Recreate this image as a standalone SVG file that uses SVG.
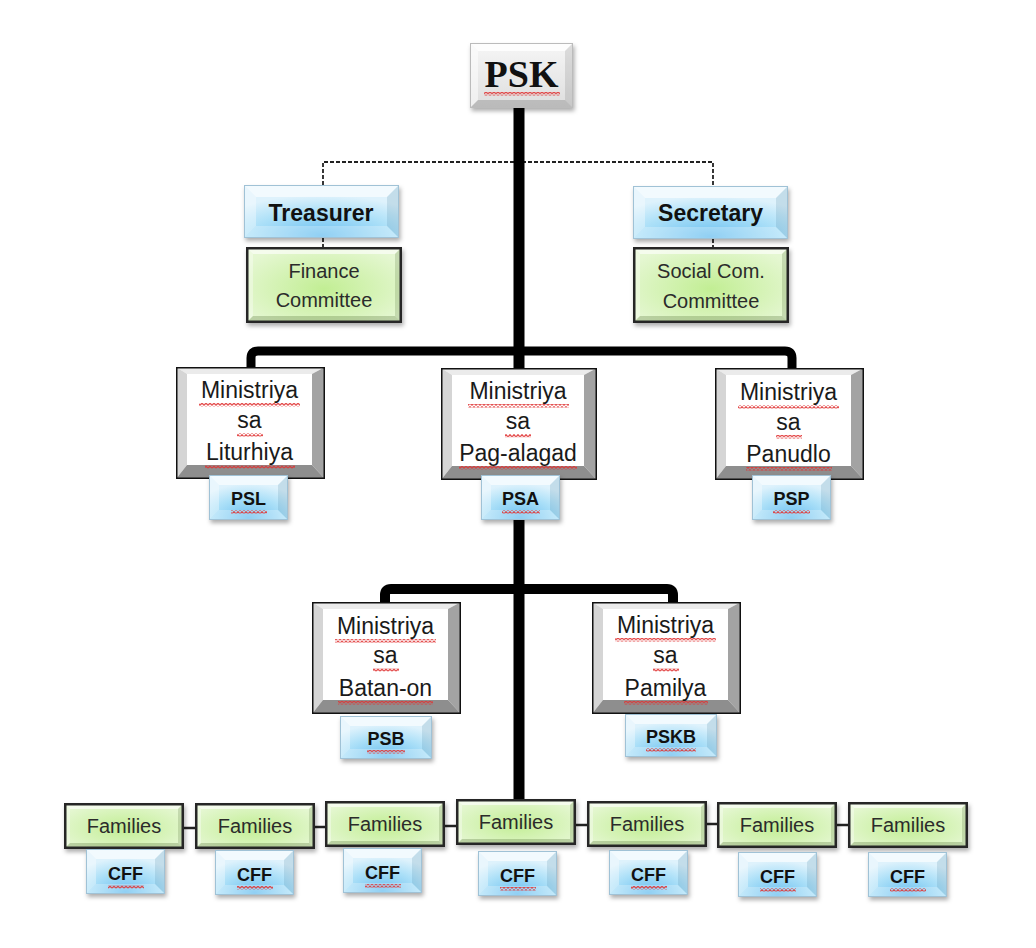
<svg xmlns="http://www.w3.org/2000/svg" width="1036" height="948" viewBox="0 0 1036 948">
<style>
.t{font-family:"Liberation Sans",Arial,sans-serif;text-anchor:middle;fill:#1a1a1a}
.min{font-size:23px}
.lbl{font-size:18px;font-weight:bold;fill:#111}
.fam{font-size:20px;fill:#2b2b2b}
.off{font-size:23px;font-weight:bold;fill:#111}
.com{font-size:20px;fill:#2b2b2b}
.psk{font-family:"Liberation Serif","Times New Roman",serif;font-size:38px;font-weight:bold;text-anchor:middle;fill:#111}
.thick{stroke:#000;fill:none;stroke-linejoin:round}
.dash{stroke:#222;stroke-width:1.8;stroke-dasharray:4 2;fill:none}
.fc{stroke:#222;stroke-width:2.5}
.sq{fill:url(#sq)}
</style>
<defs>
<filter id="sh" x="-10%" y="-10%" width="130%" height="140%">
<feDropShadow dx="1.5" dy="3" stdDeviation="2" flood-color="#000" flood-opacity="0.32"/>
</filter>
<pattern id="sq" width="4" height="3.5" patternUnits="userSpaceOnUse">
<path d="M0,2.8 L2,0.7 L4,2.8" fill="none" stroke="#e03434" stroke-width="1.2"/>
</pattern>
<linearGradient id="pFace" x1="0" y1="0" x2="0" y2="1">
<stop offset="0" stop-color="#f6f6f6"/><stop offset="1" stop-color="#dedede"/>
</linearGradient>
<radialGradient id="bFace" cx="50%" cy="95%" r="75%">
<stop offset="0" stop-color="#6cc0f0"/><stop offset="0.6" stop-color="#ace0f8"/><stop offset="1" stop-color="#def2fc"/>
</radialGradient>
<radialGradient id="gFace" cx="50%" cy="55%" r="60%">
<stop offset="0" stop-color="#c2ee94"/><stop offset="1" stop-color="#e5f7d2"/>
</radialGradient>

<g id="tPsk">
<rect width="103" height="65" fill="url(#pFace)"/>
<polygon points="0,0 103,0 95,8 8,8" fill="#fff" opacity="0.8"/>
<polygon points="0,0 8,8 8,57 0,65" fill="#fff" opacity="0.5"/>
<polygon points="103,0 103,65 95,57 95,8" fill="#000" opacity="0.1"/>
<polygon points="0,65 8,57 95,57 103,65" fill="#000" opacity="0.16"/>
<rect x="0.5" y="0.5" width="102" height="64" fill="none" stroke="#bbb"/>
</g>

<g id="tBlueT">
<rect width="155" height="53" fill="url(#bFace)"/>
<polygon points="0,0 155,0 143,12 12,12" fill="#fff" opacity="0.6"/>
<polygon points="0,0 12,12 12,41 0,53" fill="#fff" opacity="0.35"/>
<polygon points="155,0 155,53 143,41 143,12" fill="#3a6f8f" opacity="0.16"/>
<polygon points="0,53 12,41 143,41 155,53" fill="#fff" opacity="0.25"/>
<rect x="0.5" y="0.5" width="154" height="52" fill="none" stroke="#a0c2d6"/>
</g>

<g id="tBlueS">
<rect width="79" height="45" fill="url(#bFace)"/>
<polygon points="0,0 79,0 69,10 10,10" fill="#fff" opacity="0.6"/>
<polygon points="0,0 10,10 10,35 0,45" fill="#fff" opacity="0.35"/>
<polygon points="79,0 79,45 69,35 69,10" fill="#3a6f8f" opacity="0.16"/>
<polygon points="0,45 10,35 69,35 79,45" fill="#fff" opacity="0.25"/>
<rect x="0.5" y="0.5" width="78" height="44" fill="none" stroke="#a0c2d6"/>
</g>

<g id="tBlueM">
<rect width="92" height="43" fill="url(#bFace)"/>
<polygon points="0,0 92,0 82,10 10,10" fill="#fff" opacity="0.6"/>
<polygon points="0,0 10,10 10,33 0,43" fill="#fff" opacity="0.35"/>
<polygon points="92,0 92,43 82,33 82,10" fill="#3a6f8f" opacity="0.16"/>
<polygon points="0,43 10,33 82,33 92,43" fill="#fff" opacity="0.25"/>
<rect x="0.5" y="0.5" width="91" height="42" fill="none" stroke="#a0c2d6"/>
</g>

<g id="tGreenC">
<rect width="156" height="76" fill="url(#gFace)"/>
<polygon points="0,0 156,0 149,7 7,7" fill="#fff" opacity="0.6"/>
<polygon points="0,0 7,7 7,69 0,76" fill="#fff" opacity="0.35"/>
<polygon points="156,0 156,76 149,69 149,7" fill="#3a5a1a" opacity="0.18"/>
<polygon points="0,76 7,69 149,69 156,76" fill="#3a5a1a" opacity="0.25"/>
<rect x="1.25" y="1.25" width="153.5" height="73.5" fill="none" stroke="#262626" stroke-width="2.5"/>
</g>

<g id="tGreenF">
<rect width="120" height="46" fill="url(#gFace)"/>
<polygon points="0,0 120,0 114,6 6,6" fill="#fff" opacity="0.6"/>
<polygon points="0,0 6,6 6,40 0,46" fill="#fff" opacity="0.35"/>
<polygon points="120,0 120,46 114,40 114,6" fill="#3a5a1a" opacity="0.18"/>
<polygon points="0,46 6,40 114,40 120,46" fill="#3a5a1a" opacity="0.25"/>
<rect x="1.25" y="1.25" width="117.5" height="43.5" fill="none" stroke="#262626" stroke-width="2.5"/>
</g>

<g id="tMin149">
<rect width="149" height="112" fill="#fff"/>
<polygon points="0,0 149,0 136,7 11,7" fill="#ebebeb"/>
<polygon points="0,0 11,7 11,98 0,112" fill="#d5d5d5"/>
<polygon points="149,0 149,112 136,98 136,7" fill="#a3a3a3"/>
<polygon points="0,112 11,98 136,98 149,112" fill="#8e8e8e"/>
<rect x="0.75" y="0.75" width="147.5" height="110.5" fill="none" stroke="#111" stroke-width="1.5"/>
</g>

<g id="tMin156">
<rect width="156" height="112" fill="#fff"/>
<polygon points="0,0 156,0 143,7 11,7" fill="#ebebeb"/>
<polygon points="0,0 11,7 11,98 0,112" fill="#d5d5d5"/>
<polygon points="156,0 156,112 143,98 143,7" fill="#a3a3a3"/>
<polygon points="0,112 11,98 143,98 156,112" fill="#8e8e8e"/>
<rect x="0.75" y="0.75" width="154.5" height="110.5" fill="none" stroke="#111" stroke-width="1.5"/>
</g>
</defs>

<rect width="1036" height="948" fill="#fff"/>

<g id="connectors">
<path class="dash" d="M323,185 V162 H713 V186"/>
<path class="dash" d="M323,238 V247"/>
<path class="dash" d="M713,239 V247"/>
<line class="thick" x1="519" y1="108" x2="519" y2="799" stroke-width="11"/>
<path class="thick" stroke-width="9" d="M251,368 V358 Q251,351 258,351 H785 Q792,351 792,358 V368"/>
<path class="thick" stroke-width="10" d="M385,602 V595 Q385,589 391,589 H667 Q673,589 673,595 V602"/>
<line class="fc" x1="184" y1="828" x2="196" y2="828"/>
<line class="fc" x1="314" y1="827" x2="326" y2="827"/>
<line class="fc" x1="444" y1="826" x2="457" y2="826"/>
<line class="fc" x1="575" y1="825" x2="588" y2="825"/>
<line class="fc" x1="706" y1="824" x2="718" y2="824"/>
<line class="fc" x1="836" y1="825" x2="849" y2="825"/>
</g>

<g id="node-psk"><use href="#tPsk" x="470" y="43" filter="url(#sh)"/><text class="psk" x="521.5" y="87">PSK</text></g>

<g id="node-treasurer"><use href="#tBlueT" x="244" y="185" filter="url(#sh)"/><text class="t off" x="321" y="221">Treasurer</text></g>
<g id="node-secretary"><use href="#tBlueT" x="633" y="186" filter="url(#sh)"/><text class="t off" x="710.5" y="221">Secretary</text></g>

<g id="node-finance"><use href="#tGreenC" x="246" y="247" filter="url(#sh)"/><text class="t com" x="324" y="278">Finance</text><text class="t com" x="324" y="307">Committee</text></g>
<g id="node-social"><use href="#tGreenC" x="633" y="247" filter="url(#sh)"/><text class="t com" x="711" y="278">Social Com.</text><text class="t com" x="711" y="308">Committee</text></g>

<g id="node-liturhiya"><use href="#tMin149" x="176" y="367"/><text class="t min" x="249.5" y="398">Ministriya</text><text class="t min" x="249.5" y="428">sa</text><text class="t min" x="249.5" y="460">Liturhiya</text></g>
<g id="node-psl"><use href="#tBlueS" x="209" y="475" filter="url(#sh)"/><text class="t lbl" x="248.5" y="505">PSL</text></g>

<g id="node-pagalagad"><use href="#tMin156" x="441" y="368"/><text class="t min" x="518" y="399">Ministriya</text><text class="t min" x="518" y="429">sa</text><text class="t min" x="518" y="461">Pag-alagad</text></g>
<g id="node-psa"><use href="#tBlueS" x="481" y="475" filter="url(#sh)"/><text class="t lbl" x="520.5" y="505">PSA</text></g>

<g id="node-panudlo"><use href="#tMin149" x="715" y="368"/><text class="t min" x="788.5" y="400">Ministriya</text><text class="t min" x="788.5" y="430">sa</text><text class="t min" x="788.5" y="462">Panudlo</text></g>
<g id="node-psp"><use href="#tBlueS" x="752" y="475" filter="url(#sh)"/><text class="t lbl" x="791.5" y="505">PSP</text></g>

<g id="node-batanon"><use href="#tMin149" x="312" y="602"/><text class="t min" x="385.5" y="634">Ministriya</text><text class="t min" x="385.5" y="663">sa</text><text class="t min" x="385.5" y="696">Batan-on</text></g>
<g id="node-psb"><use href="#tBlueM" x="340" y="716" filter="url(#sh)"/><text class="t lbl" x="386" y="745">PSB</text></g>

<g id="node-pamilya"><use href="#tMin149" x="592" y="602"/><text class="t min" x="665.5" y="633">Ministriya</text><text class="t min" x="665.5" y="663">sa</text><text class="t min" x="665.5" y="696">Pamilya</text></g>
<g id="node-pskb"><use href="#tBlueM" x="625" y="714" filter="url(#sh)"/><text class="t lbl" x="671" y="743">PSKB</text></g>

<g id="node-families-1"><use href="#tGreenF" x="64" y="803" filter="url(#sh)"/><text class="t fam" x="124" y="833">Families</text></g>
<g id="node-families-2"><use href="#tGreenF" x="195" y="803" filter="url(#sh)"/><text class="t fam" x="255" y="833">Families</text></g>
<g id="node-families-3"><use href="#tGreenF" x="325" y="801" filter="url(#sh)"/><text class="t fam" x="385" y="831">Families</text></g>
<g id="node-families-4"><use href="#tGreenF" x="456" y="799" filter="url(#sh)"/><text class="t fam" x="516" y="829">Families</text></g>
<g id="node-families-5"><use href="#tGreenF" x="587" y="801" filter="url(#sh)"/><text class="t fam" x="647" y="831">Families</text></g>
<g id="node-families-6"><use href="#tGreenF" x="717" y="802" filter="url(#sh)"/><text class="t fam" x="777" y="832">Families</text></g>
<g id="node-families-7"><use href="#tGreenF" x="848" y="802" filter="url(#sh)"/><text class="t fam" x="908" y="832">Families</text></g>

<g id="node-cff-1"><use href="#tBlueS" x="86" y="849" filter="url(#sh)"/><text class="t lbl" x="125.5" y="880">CFF</text></g>
<g id="node-cff-2"><use href="#tBlueS" x="215" y="850" filter="url(#sh)"/><text class="t lbl" x="254.5" y="881">CFF</text></g>
<g id="node-cff-3"><use href="#tBlueS" x="343" y="848" filter="url(#sh)"/><text class="t lbl" x="382.5" y="879">CFF</text></g>
<g id="node-cff-4"><use href="#tBlueS" x="478" y="851" filter="url(#sh)"/><text class="t lbl" x="517.5" y="882">CFF</text></g>
<g id="node-cff-5"><use href="#tBlueS" x="609" y="850" filter="url(#sh)"/><text class="t lbl" x="648.5" y="881">CFF</text></g>
<g id="node-cff-6"><use href="#tBlueS" x="738" y="852" filter="url(#sh)"/><text class="t lbl" x="777.5" y="883">CFF</text></g>
<g id="node-cff-7"><use href="#tBlueS" x="868" y="852" filter="url(#sh)"/><text class="t lbl" x="907.5" y="883">CFF</text></g>

<g id="spellcheck-marks">
<rect class="sq" x="484" y="92" width="76" height="3.5"/>
<rect class="sq" x="199" y="403" width="101" height="3.5"/>
<rect class="sq" x="237" y="433" width="26" height="3.5"/>
<rect class="sq" x="205" y="465" width="90" height="3.5"/>
<rect class="sq" x="231" y="510" width="36" height="3.5"/>
<rect class="sq" x="468" y="404" width="101" height="3.5"/>
<rect class="sq" x="505" y="434" width="26" height="3.5"/>
<rect class="sq" x="459" y="466" width="118" height="3.5"/>
<rect class="sq" x="502" y="510" width="38" height="3.5"/>
<rect class="sq" x="738" y="405" width="101" height="3.5"/>
<rect class="sq" x="776" y="435" width="26" height="3.5"/>
<rect class="sq" x="746" y="467" width="86" height="3.5"/>
<rect class="sq" x="773" y="510" width="37" height="3.5"/>
<rect class="sq" x="335" y="639" width="101" height="3.5"/>
<rect class="sq" x="373" y="668" width="26" height="3.5"/>
<rect class="sq" x="338" y="701" width="95" height="3.5"/>
<rect class="sq" x="367" y="750" width="38" height="3.5"/>
<rect class="sq" x="615" y="638" width="101" height="3.5"/>
<rect class="sq" x="653" y="668" width="26" height="3.5"/>
<rect class="sq" x="624" y="701" width="84" height="3.5"/>
<rect class="sq" x="646" y="748" width="50" height="3.5"/>
<rect class="sq" x="108" y="885" width="36" height="3.5"/>
<rect class="sq" x="237" y="886" width="36" height="3.5"/>
<rect class="sq" x="365" y="884" width="36" height="3.5"/>
<rect class="sq" x="500" y="887" width="36" height="3.5"/>
<rect class="sq" x="631" y="886" width="36" height="3.5"/>
<rect class="sq" x="760" y="888" width="36" height="3.5"/>
<rect class="sq" x="890" y="888" width="36" height="3.5"/>
</g>
</svg>
